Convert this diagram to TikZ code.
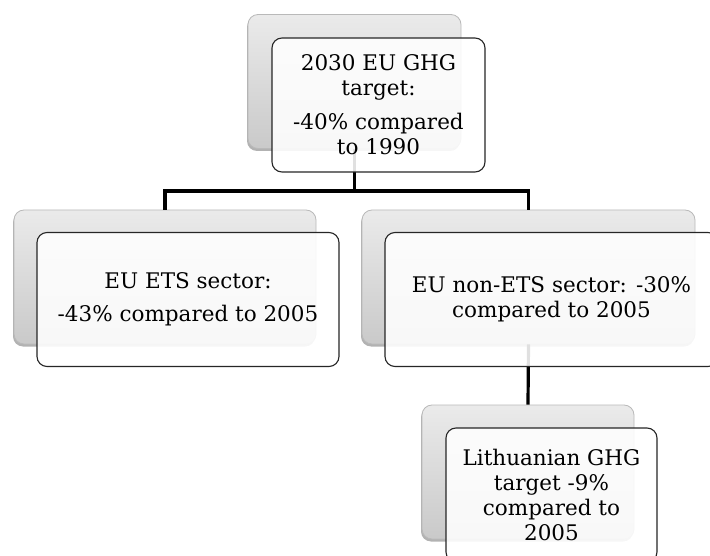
\documentclass[tikz,border=0pt]{standalone}
\usepackage{fontspec}
\setmainfont{DejaVu Serif}
\usetikzlibrary{shadows}
\tikzset{
  backbox/.style={rounded corners=10pt, draw=gray!55, line width=0.8pt,
    top color=gray!16, bottom color=gray!42,
    drop shadow={shadow xshift=-1pt, shadow yshift=-2.5pt, opacity=0.3, fill=black},
    minimum width=#1, minimum height=134pt, inner sep=0pt},
  frontbox/.style={rounded corners=10pt, draw=black!85, line width=1.1pt,
    fill=white, fill opacity=0.88, text opacity=1,
    minimum width=#1, minimum height=134pt, inner sep=0pt,
    align=center, font=\fontsize{21.5}{25}\selectfont, text=black},
  conn/.style={draw=black, line width=3.2pt}
}
\begin{document}
\begin{tikzpicture}[x=1pt,y=-1pt]
\useasboundingbox (0,0) rectangle (710,556);
\clip (0,0) rectangle (710,556);
% back boxes
\node[backbox=213pt] (tb) at (354.5,81.5) {};
\node[backbox=302pt] (lb) at (165,277) {};
\node[backbox=333pt] (rb) at (528.5,277) {};
\node[backbox=212pt] (bb) at (528,472) {};
% connectors
\coordinate (j) at (354.5,191);
\draw[conn] (tb.south) -- (j);
\draw[conn] (lb.north) |- (j) -| (rb.north);
\draw[conn] (rb.south) -- (bb.north);
% front boxes
\node[frontbox=213pt] (tf) at (378.5,105) {2030 EU GHG\\target:\\[9pt]-40\% compared\\to 1990};
\node[frontbox=302pt] (lf) at (188,299.5) {EU ETS sector:\\[8pt]-43\% compared to 2005};
\node[frontbox=333pt] (rf) at (551.5,299.5) {EU non-ETS sector: -30\%\\compared to 2005};
\node[frontbox=211pt] (bf) at (551.5,495) {Lithuanian GHG\\target -9\%\\compared to\\2005};
\end{tikzpicture}
\end{document}
